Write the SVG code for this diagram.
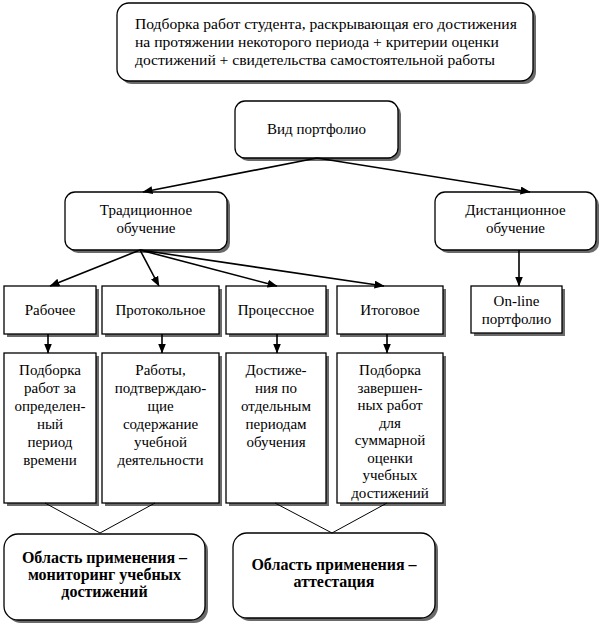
<svg xmlns="http://www.w3.org/2000/svg" width="600" height="625" viewBox="0 0 600 625">
<defs>
<marker id="ah" markerWidth="10" markerHeight="8" refX="9.5" refY="4" orient="auto" markerUnits="userSpaceOnUse">
<path d="M0,0 L10,4 L0,8 Z" fill="#000"/>
</marker>
<style>
.box{fill:#fff;stroke:#000;stroke-width:1.3}
.sh{fill:#6a6a6a}
.t{font-family:"Liberation Serif","Times New Roman",serif;font-size:15px;fill:#000;text-anchor:middle}
.tl{text-anchor:start;font-size:15.6px}
.b{font-weight:bold;font-size:16px}
.c{stroke:#000;stroke-width:1.6;fill:none}
.l{stroke:#000;stroke-width:1;fill:none}
</style>
</defs>
<rect width="600" height="625" fill="#fff"/>

<g id="top">
<rect class="sh" x="120" y="6" width="416" height="78" rx="12"/>
<rect class="box" x="117" y="3" width="416" height="78" rx="12"/>
<text class="t tl" x="135" y="29">Подборка работ студента, раскрывающая его достижения</text>
<text class="t tl" x="135" y="47">на протяжении некоторого периода + критерии оценки</text>
<text class="t tl" x="135" y="65">достижений + свидетельства самостоятельной работы</text>
</g>

<g id="vid">
<rect class="sh" x="238" y="104" width="163" height="57" rx="10"/>
<rect class="box" x="235" y="101" width="163" height="57" rx="10"/>
<text class="t" x="316.5" y="134">Вид портфолио</text>
</g>

<g id="trad">
<rect class="sh" x="68" y="195" width="162" height="58" rx="10"/>
<rect class="box" x="65" y="192" width="162" height="58" rx="10"/>
<text class="t" x="146" y="215">Традиционное</text>
<text class="t" x="146" y="233">обучение</text>
</g>

<g id="dist">
<rect class="sh" x="438" y="195" width="161" height="58" rx="10"/>
<rect class="box" x="435" y="192" width="161" height="58" rx="10"/>
<text class="t" x="515.5" y="215">Дистанционное</text>
<text class="t" x="515.5" y="233">обучение</text>
</g>

<g id="rab">
<rect class="sh" x="7" y="289" width="92" height="48"/>
<rect class="box" x="4" y="286" width="92" height="48"/>
<text class="t" x="50" y="315">Рабочее</text>
</g>
<g id="prot">
<rect class="sh" x="105" y="289" width="117" height="48"/>
<rect class="box" x="102" y="286" width="117" height="48"/>
<text class="t" x="160.5" y="315">Протокольное</text>
</g>
<g id="proc">
<rect class="sh" x="229" y="289" width="100" height="48"/>
<rect class="box" x="226" y="286" width="100" height="48"/>
<text class="t" x="276" y="315">Процессное</text>
</g>
<g id="itog">
<rect class="sh" x="340" y="289" width="106" height="48"/>
<rect class="box" x="337" y="286" width="106" height="48"/>
<text class="t" x="390" y="315">Итоговое</text>
</g>
<g id="online">
<rect class="sh" x="474" y="289" width="91" height="47"/>
<rect class="box" x="471" y="286" width="91" height="47"/>
<text class="t" x="516.5" y="306">On-line</text>
<text class="t" x="516.5" y="324">портфолио</text>
</g>

<g id="rab-d">
<rect class="sh" x="7" y="356" width="92" height="150"/>
<rect class="box" x="4" y="353" width="92" height="150"/>
<text class="t" x="50" y="375">Подборка</text>
<text class="t" x="50" y="393">работ за</text>
<text class="t" x="50" y="411">определен-</text>
<text class="t" x="50" y="429">ный</text>
<text class="t" x="50" y="447">период</text>
<text class="t" x="50" y="465">времени</text>
</g>
<g id="prot-d">
<rect class="sh" x="105" y="356" width="117" height="150"/>
<rect class="box" x="102" y="353" width="117" height="150"/>
<text class="t" x="160.5" y="375">Работы,</text>
<text class="t" x="160.5" y="393">подтверждаю-</text>
<text class="t" x="160.5" y="411">щие</text>
<text class="t" x="160.5" y="429">содержание</text>
<text class="t" x="160.5" y="447">учебной</text>
<text class="t" x="160.5" y="465">деятельности</text>
</g>
<g id="proc-d">
<rect class="sh" x="229" y="356" width="100" height="150"/>
<rect class="box" x="226" y="353" width="100" height="150"/>
<text class="t" x="276" y="375">Достиже-</text>
<text class="t" x="276" y="393">ния по</text>
<text class="t" x="276" y="411">отдельным</text>
<text class="t" x="276" y="429">периодам</text>
<text class="t" x="276" y="447">обучения</text>
</g>
<g id="itog-d">
<rect class="sh" x="340" y="356" width="106" height="150"/>
<rect class="box" x="337" y="353" width="106" height="150"/>
<text class="t" x="390" y="375">Подборка</text>
<text class="t" x="390" y="392.5">завершен-</text>
<text class="t" x="390" y="410">ных работ</text>
<text class="t" x="390" y="427.5">для</text>
<text class="t" x="390" y="445">суммарной</text>
<text class="t" x="390" y="462.5">оценки</text>
<text class="t" x="390" y="480">учебных</text>
<text class="t" x="390" y="497.5">достижений</text>
</g>

<g id="area1">
<rect class="sh" x="7" y="537" width="201" height="86" rx="14"/>
<rect class="box" x="4" y="534" width="201" height="86" rx="14"/>
<text class="t b" x="104.5" y="563">Область применения –</text>
<text class="t b" x="104.5" y="580">мониторинг учебных</text>
<text class="t b" x="104.5" y="597">достижений</text>
</g>
<g id="area2">
<rect class="sh" x="236" y="536" width="202" height="85" rx="14"/>
<rect class="box" x="233" y="533" width="202" height="85" rx="14"/>
<text class="t b" x="334" y="570">Область применения –</text>
<text class="t b" x="334" y="587">аттестация</text>
</g>

<g id="connectors">
<line class="c" x1="317" y1="158" x2="143" y2="192" marker-end="url(#ah)"/>
<line class="c" x1="317" y1="158" x2="530" y2="192" marker-end="url(#ah)"/>
<line class="c" x1="140" y1="250" x2="50" y2="286" marker-end="url(#ah)"/>
<line class="c" x1="140" y1="250" x2="159" y2="286" marker-end="url(#ah)"/>
<line class="c" x1="140" y1="250" x2="277" y2="286" marker-end="url(#ah)"/>
<line class="c" x1="140" y1="250" x2="384" y2="286" marker-end="url(#ah)"/>
<line class="c" x1="519" y1="250" x2="519" y2="286" marker-end="url(#ah)"/>
<line class="c" x1="48" y1="334" x2="48" y2="353" marker-end="url(#ah)"/>
<line class="c" x1="162" y1="334" x2="162" y2="353" marker-end="url(#ah)"/>
<line class="c" x1="277" y1="334" x2="277" y2="353" marker-end="url(#ah)"/>
<line class="c" x1="387" y1="334" x2="387" y2="353" marker-end="url(#ah)"/>
<polyline class="l" points="45,503 100,533 155,503"/>
<polyline class="l" points="275,503 332,533 387,503"/>
</g>
</svg>
